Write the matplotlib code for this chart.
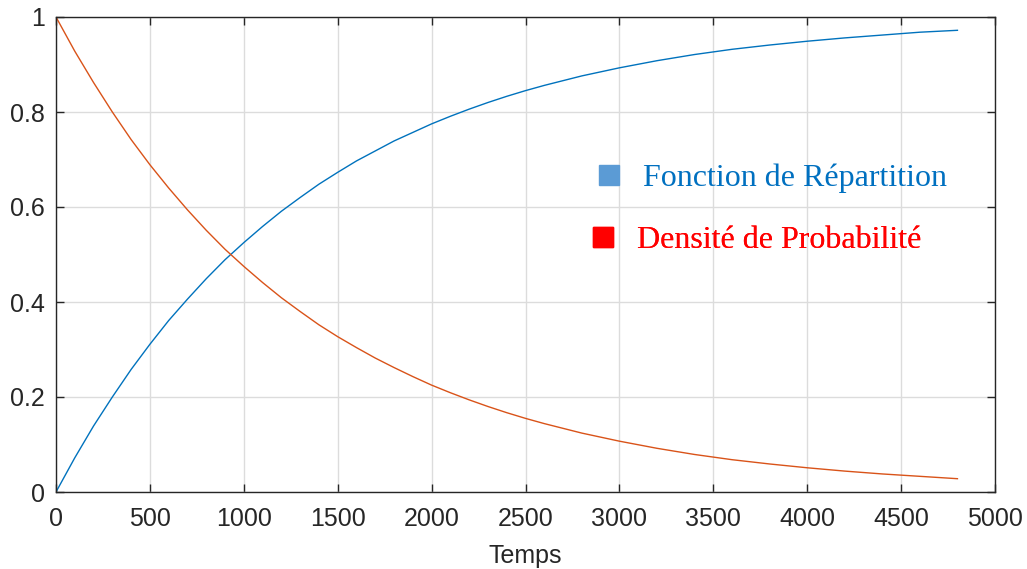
import matplotlib.pyplot as plt
from matplotlib.lines import Line2D

# valeurs
temps = [0, 100, 200, 300, 400, 500, 600, 700, 800, 900, 1000, 1100, 1200,
         1300, 1400, 1500, 1600, 1700, 1800, 1900, 2000, 2100, 2200, 2300,
         2400, 2500, 2600, 2800, 3000, 3200, 3400, 3600, 3800, 4000, 4200,
         4400, 4600, 4800]
repartition = [0.000, 0.072, 0.139, 0.200, 0.258, 0.311, 0.361, 0.406, 0.449,
               0.489, 0.525, 0.559, 0.591, 0.620, 0.648, 0.673, 0.697, 0.718,
               0.739, 0.757, 0.775, 0.791, 0.806, 0.820, 0.833, 0.845, 0.856,
               0.876, 0.893, 0.908, 0.921, 0.932, 0.941, 0.949, 0.956, 0.962,
               0.968, 0.972]
densite = [1.000, 0.928, 0.862, 0.800, 0.742, 0.689, 0.640, 0.594, 0.551,
           0.511, 0.475, 0.441, 0.409, 0.380, 0.352, 0.327, 0.304, 0.282,
           0.262, 0.243, 0.225, 0.209, 0.194, 0.180, 0.167, 0.155, 0.144,
           0.124, 0.107, 0.092, 0.079, 0.068, 0.059, 0.051, 0.044, 0.038,
           0.033, 0.028]
xticks = [0, 500, 1000, 1500, 2000, 2500, 3000, 3500, 4000, 4500, 5000]
yticks = [0, 0.2, 0.4, 0.6, 0.8, 1]
ytick_labels = ['0', '0.2', '0.4', '0.6', '0.8', '1']
noms = ['Fonction de Répartition', 'Densité de Probabilité']

plt.rcParams['font.family'] = ['Liberation Sans', 'DejaVu Sans']

fig = plt.figure(figsize=(10.27, 5.69), dpi=100)
ax = fig.add_axes([56 / 1027, 1 - 492 / 569, 939 / 1027, 475 / 569])

ax.plot(temps, repartition, color='#0072BD', lw=1.0)
ax.plot(temps, densite, color='#D95319', lw=1.0)

ax.set_xlim(0, 5000)
ax.set_ylim(0, 1)
ax.set_xticks(xticks)
ax.set_yticks(yticks)
ax.set_yticklabels(ytick_labels)
ax.grid(True, color='#dcdcdc', lw=1.0)
ax.set_axisbelow(True)
for s in ax.spines.values():
    s.set_color('#262626')
    s.set_linewidth(1.0)
ax.tick_params(direction='in', length=6, width=1.0, colors='#262626',
               labelsize=18, top=True, right=True)
ax.tick_params(axis='x', pad=11)
ax.tick_params(axis='y', pad=8)
ax.set_xlabel('Temps', fontsize=18, color='#262626', labelpad=9)

# deux légendes séparées (la seconde est décalée un peu à gauche)
couleurs_carre = ['#5B9BD5', '#FF0000']
couleurs_texte = ['#0070C0', '#FF0000']
ancres = [(0.575, 0.692), (0.5686, 0.561)]
for nom, cc, ct, anc in zip(noms, couleurs_carre, couleurs_texte, ancres):
    h = Line2D([], [], ls='none', marker='s', ms=13.7, color=cc)
    leg = ax.legend([h], [nom], loc='upper left', bbox_to_anchor=anc,
                    frameon=False, borderpad=0, borderaxespad=0,
                    handlelength=0.8, handletextpad=0.66,
                    prop={'family': 'Liberation Serif', 'size': 23},
                    labelcolor=ct)
    ax.add_artist(leg)

fig.savefig('out.png', dpi=100)
